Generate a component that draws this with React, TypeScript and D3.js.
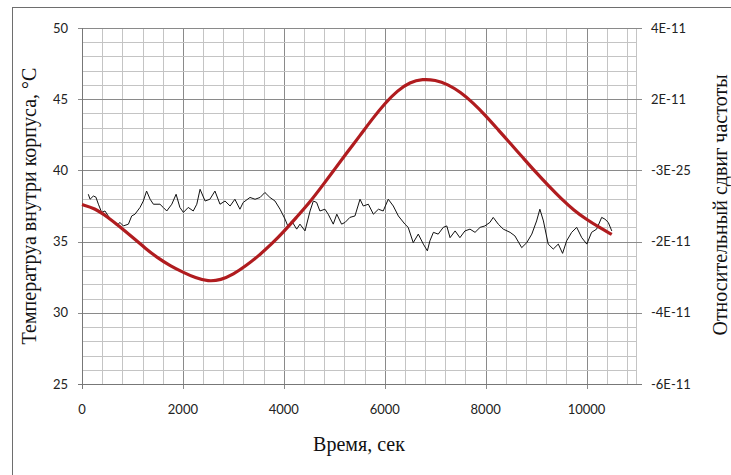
import React, { useEffect, useRef } from 'react'
import { select, scaleLinear, line, range, curveBasis } from 'd3'

// temperature inside the case (left axis), sec / °C
const tempTime = [0, 250, 500, 750, 1000, 1250, 1500, 1750, 2000, 2250, 2500, 2750, 3000, 3250, 3500, 3750, 4000, 4250, 4500, 4750, 5000, 5250, 5500, 5750, 6000, 6250, 6500, 6750, 7000, 7250, 7500, 7750, 8000, 8250, 8500, 8750, 9000, 9250, 9500, 9750, 10000, 10250, 10500]
const tempValues = [37.6, 37.35, 36.75, 36.05, 35.3, 34.55, 33.85, 33.3, 32.85, 32.45, 32.2, 32.3, 32.7, 33.3, 34.0, 34.8, 35.7, 36.7, 37.7, 38.85, 40.05, 41.25, 42.4, 43.6, 44.7, 45.6, 46.2, 46.42, 46.35, 46.05, 45.5, 44.75, 43.85, 42.85, 41.85, 40.85, 39.85, 38.9, 38.0, 37.2, 36.55, 36.0, 35.5]

// relative frequency shift (right axis), units of 1E-11
const shiftTime = [125, 160, 225, 275, 325, 390, 455, 520, 620, 690, 750, 820, 920, 985, 1050, 1150, 1215, 1280, 1350, 1415, 1545, 1610, 1680, 1780, 1865, 1940, 2010, 2105, 2205, 2275, 2340, 2440, 2535, 2635, 2735, 2835, 2935, 3030, 3130, 3195, 3330, 3430, 3530, 3625, 3725, 3825, 3925, 4025, 4090, 4155, 4255, 4320, 4420, 4520, 4585, 4650, 4715, 4815, 4880, 4980, 5050, 5145, 5215, 5310, 5410, 5510, 5575, 5675, 5775, 5875, 5970, 6070, 6170, 6270, 6400, 6465, 6565, 6665, 6765, 6845, 6895, 6965, 7060, 7160, 7230, 7295, 7395, 7490, 7590, 7690, 7790, 7890, 7985, 8085, 8150, 8250, 8350, 8485, 8580, 8715, 8815, 8915, 9010, 9075, 9145, 9240, 9340, 9440, 9525, 9605, 9705, 9805, 9905, 10005, 10100, 10200, 10300, 10365, 10430, 10500]
const shiftValues = [-0.67, -0.81, -0.72, -0.75, -0.95, -1.18, -1.14, -1.28, -1.46, -1.56, -1.46, -1.56, -1.51, -1.28, -1.23, -1.04, -0.86, -0.58, -0.81, -0.95, -0.95, -1.04, -1.14, -0.95, -0.67, -1.04, -1.18, -1.04, -1.14, -0.95, -0.53, -0.86, -0.81, -0.58, -0.95, -0.86, -1.0, -0.81, -1.09, -0.9, -0.76, -0.81, -0.76, -0.62, -0.76, -0.86, -1.09, -1.37, -1.6, -1.42, -1.65, -1.51, -1.7, -1.14, -0.86, -0.9, -1.14, -1.09, -1.23, -1.51, -1.23, -1.51, -1.46, -1.32, -1.28, -0.81, -1.0, -0.95, -1.23, -1.09, -1.14, -0.81, -1.0, -1.28, -1.51, -1.6, -2.03, -1.79, -2.07, -2.26, -1.98, -1.74, -1.79, -1.6, -1.56, -1.89, -1.7, -1.89, -1.7, -1.65, -1.74, -1.6, -1.56, -1.46, -1.32, -1.51, -1.65, -1.74, -1.84, -2.17, -2.03, -1.79, -1.42, -1.09, -1.42, -2.07, -2.21, -2.07, -2.33, -1.98, -1.74, -1.6, -1.89, -2.07, -1.74, -1.65, -1.32, -1.37, -1.46, -1.7]

const xTicks = [0, 2000, 4000, 6000, 8000, 10000]
const leftTicks = [25, 30, 35, 40, 45, 50]
const rightTicks = [-6, -4, -2, 0, 2, 4]
const rightTickLabels = ['-6E-11', '-4E-11', '-2E-11', '-3E-25', '2E-11', '4E-11']

function App() {
  const ref = useRef(null)

  const width = 731, height = 475
  const margin = { top: 28, left: 82, right: 94, bottom: 91 }
  const w = width - margin.left - margin.right
  const h = height - margin.top - margin.bottom

  useEffect(() => {
    const root = select(ref.current)
    root.selectAll('*').remove()

    const svg = root.append('svg')
      .attr('width', width)
      .attr('height', height)
      .style('position', 'absolute')
      .style('left', 0)
      .style('top', 0)
      .style('background', '#fff')

    svg.append('rect')
      .attr('x', 12.5).attr('y', 7.5)
      .attr('width', 740).attr('height', 480)
      .attr('fill', '#fff').attr('stroke', '#6e6e6e')

    const g = svg.append('g').attr('transform', `translate(${margin.left},${margin.top})`)

    const x = scaleLinear().domain([0, 11000]).range([0, w])
    const yL = scaleLinear().domain([25, 50]).range([h, 0])
    const yR = scaleLinear().domain([-6, 4]).range([h, 0])

    // grid
    const vx = range(400, 11001, 400).filter(d => d % 2000 !== 0)
    g.selectAll('.vminor').data(vx).join('line')
      .attr('x1', d => Math.round(x(d)) + 0.5).attr('x2', d => Math.round(x(d)) + 0.5)
      .attr('y1', 0).attr('y2', h)
      .attr('stroke', '#c4c4c4')
    g.selectAll('.vmajor').data(xTicks.slice(1)).join('line')
      .attr('x1', d => Math.round(x(d)) + 0.5).attr('x2', d => Math.round(x(d)) + 0.5)
      .attr('y1', 0).attr('y2', h + 5)
      .attr('stroke', '#8a8a8a')
    g.append('line')
      .attr('x1', Math.round(x(11000)) - 0.5).attr('x2', Math.round(x(11000)) - 0.5)
      .attr('y1', 0).attr('y2', h).attr('stroke', '#c4c4c4')

    const hy = range(26, 50, 1).filter(d => d % 5 !== 0)
    g.selectAll('.hminor').data(hy).join('line')
      .attr('x1', 0).attr('x2', w)
      .attr('y1', d => Math.round(yL(d)) + 0.5).attr('y2', d => Math.round(yL(d)) + 0.5)
      .attr('stroke', '#c4c4c4')
    g.selectAll('.hmajor').data(leftTicks.slice(1)).join('line')
      .attr('x1', -4).attr('x2', w + 5)
      .attr('y1', d => Math.round(yL(d)) + 0.5).attr('y2', d => Math.round(yL(d)) + 0.5)
      .attr('stroke', '#8a8a8a')

    // axes lines
    g.append('line').attr('x1', 0.5).attr('x2', 0.5).attr('y1', 0).attr('y2', h)
      .attr('stroke', '#777')
    g.append('line').attr('x1', -4).attr('x2', w + 5)
      .attr('y1', h + 0.5).attr('y2', h + 0.5).attr('stroke', '#777')
    g.append('line').attr('x1', 0.5).attr('x2', 0.5).attr('y1', h).attr('y2', h + 5)
      .attr('stroke', '#777')

    const tickFont = 'Lato, "Open Sans", sans-serif'

    g.selectAll('.xl').data(xTicks).join('text')
      .attr('x', d => x(d)).attr('y', h + 30)
      .attr('text-anchor', 'middle')
      .style('font-family', tickFont).style('font-size', '13px').style('fill', '#222')
      .text(d => d)

    g.selectAll('.yl').data(leftTicks).join('text')
      .attr('x', -14).attr('y', d => yL(d) + 4.5)
      .attr('text-anchor', 'end')
      .style('font-family', tickFont).style('font-size', '13px').style('fill', '#222')
      .text(d => d)

    g.selectAll('.yr').data(rightTicks).join('text')
      .attr('x', w + 14).attr('y', d => yR(d) + 4.5)
      .attr('text-anchor', 'start')
      .style('font-family', tickFont).style('font-size', '13px').style('fill', '#222')
      .text((d, i) => rightTickLabels[i])

    // series
    const shiftLine = line<number>()
      .x((d, i) => x(shiftTime[i]))
      .y(d => yR(d))
    g.append('path')
      .attr('d', shiftLine(shiftValues))
      .attr('fill', 'none').attr('stroke', '#111').attr('stroke-width', 1)

    const tempLine = line<number>()
      .x((d, i) => x(tempTime[i]))
      .y(d => yL(d))
      .curve(curveBasis)
    g.append('path')
      .attr('d', tempLine(tempValues))
      .attr('fill', 'none').attr('stroke', '#b01c1f').attr('stroke-width', 3.2)

    // titles
    const titleFont = "'Liberation Serif', 'DejaVu Serif', serif"
    svg.append('text')
      .attr('x', 359).attr('y', 451)
      .attr('text-anchor', 'middle')
      .style('font-family', titleFont).style('font-size', '20px').style('fill', '#111')
      .text('Время, сек')

    svg.append('text')
      .attr('transform', 'translate(36,206) rotate(-90)')
      .attr('text-anchor', 'middle')
      .style('font-family', titleFont).style('font-size', '20px').style('fill', '#111')
      .text('Температруа внутри корпуса, °С')

    svg.append('text')
      .attr('transform', 'translate(727,205) rotate(-90)')
      .attr('text-anchor', 'middle')
      .style('font-family', titleFont).style('font-size', '20px').style('fill', '#111')
      .text('Относительный сдвиг частоты')
  }, [])

  return (
    <div ref={ref}></div>
  )
}

export default App
